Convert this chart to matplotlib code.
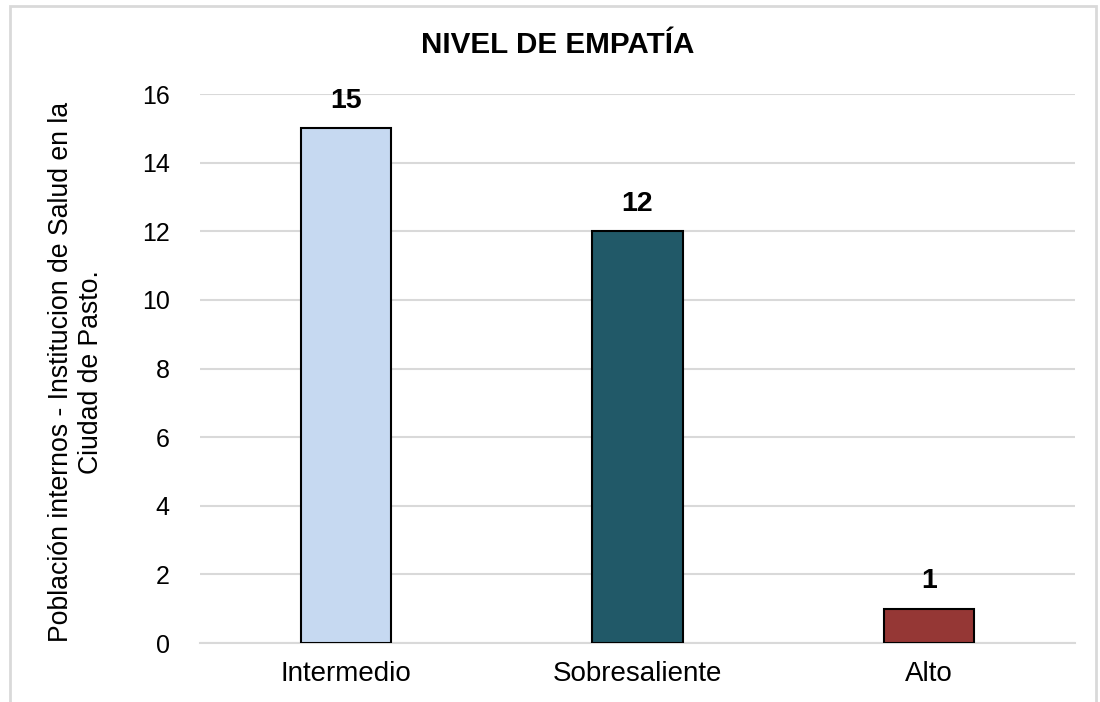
import matplotlib.pyplot as plt
from matplotlib.patches import Rectangle

plt.rcParams['font.family'] = ['Liberation Sans', 'DejaVu Sans']

categories = ['Intermedio', 'Sobresaliente', 'Alto']
values = [15, 12, 1]
colors = ['#C6D9F1', '#215968', '#953735']

fig = plt.figure(figsize=(11, 7.02), dpi=100)
ax = fig.add_axes([0.182, 0.084, 0.795, 0.782])

bars = ax.bar(range(len(categories)), values, width=0.31, color=colors,
              edgecolor='black', linewidth=1.5, zorder=3)
for b, v in zip(bars, values):
    ax.text(b.get_x() + b.get_width() / 2, v + 0.42, str(v), ha='center',
            va='bottom', fontsize=20.5, fontweight='bold')

ax.set_xlim(-0.5, 2.5)
ax.set_ylim(0, 16)
ax.set_yticks(range(0, 17, 2))
ax.set_xticks(range(len(categories)))
ax.set_xticklabels(categories)
ax.tick_params(axis='both', length=0)
ax.tick_params(axis='x', labelsize=20, pad=13)
ax.tick_params(axis='y', labelsize=18, pad=22)
ax.grid(axis='y', color='#D9D9D9', linewidth=1.5, zorder=0)
for s in ['top', 'right', 'left']:
    ax.spines[s].set_visible(False)
ax.spines['bottom'].set_color('#D9D9D9')
ax.spines['bottom'].set_linewidth(1.5)

ax.set_ylabel('Población internos - Institucion de Salud en la\nCiudad de Pasto.',
              fontsize=19.2)
ax.yaxis.set_label_coords(-0.1096, 0.494)
fig.text(0.507, 0.936, 'NIVEL DE EMPATÍA', ha='center', va='center',
         fontsize=21.3, fontweight='bold')

fig.patches.append(Rectangle((10 / 1100, -0.05), 1086 / 1100, 1.041,
                             transform=fig.transFigure, fill=False,
                             edgecolor='#D9D9D9', linewidth=2))

fig.savefig('out.png', dpi=100)
